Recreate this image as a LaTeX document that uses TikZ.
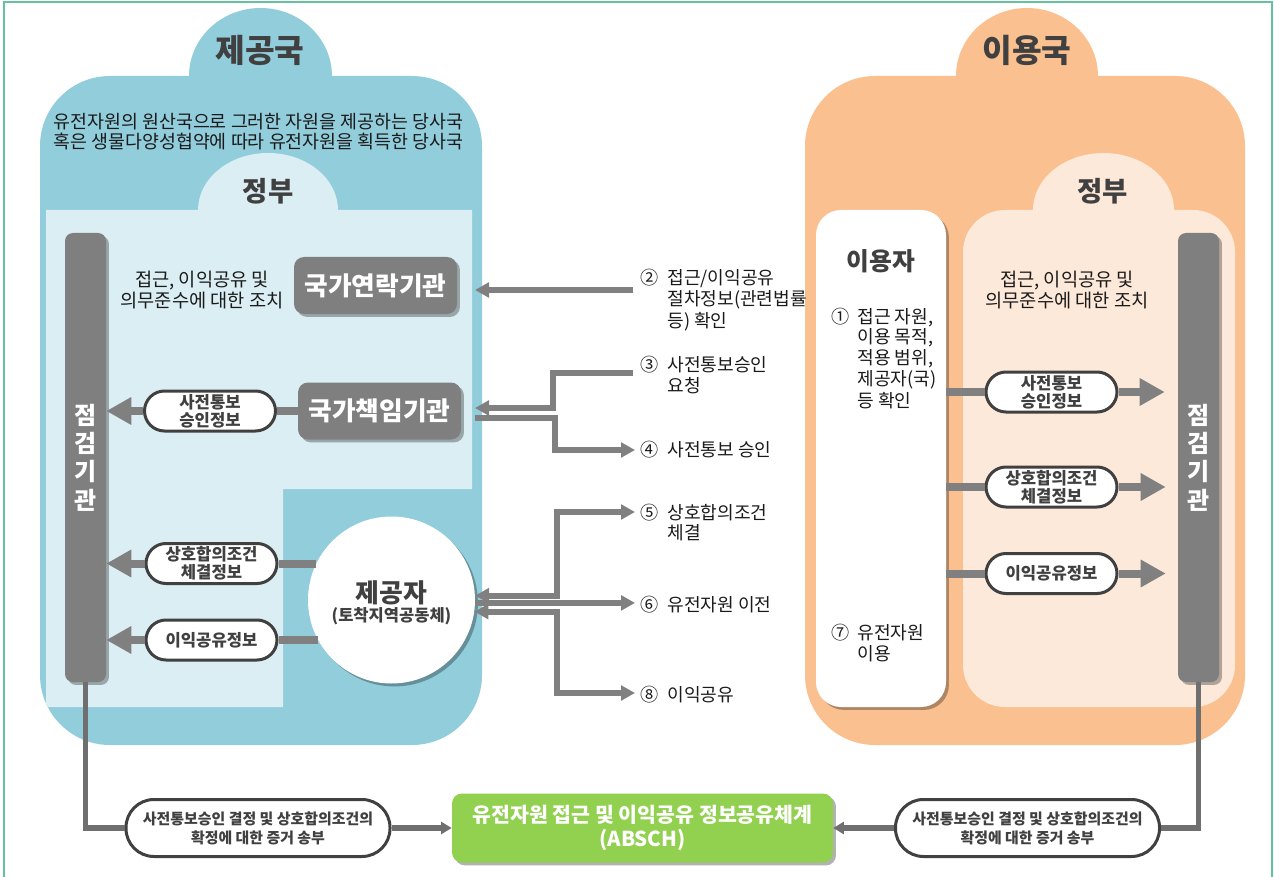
\documentclass[tikz,border=0pt]{standalone}
\usepackage{fontspec}
\setmainfont{Noto Sans CJK KR}
\usetikzlibrary{shadows,arrows.meta,calc}
\definecolor{blueC}{HTML}{92CDDC}
\definecolor{blueL}{HTML}{DAEEF3}
\definecolor{orC}{HTML}{FAC090}
\definecolor{orL}{HTML}{FDE9D9}
\definecolor{grayB}{HTML}{7F7F7F}
\definecolor{lineG}{HTML}{808080}
\definecolor{lineD}{HTML}{6F6F6F}
\definecolor{txtD}{HTML}{404040}
\definecolor{txtK}{HTML}{1A1A1A}
\definecolor{greenB}{HTML}{92D050}
\definecolor{frameG}{HTML}{66C29A}
\tikzset{
  shad/.style={drop shadow={shadow xshift=2.2pt, shadow yshift=-2.2pt, opacity=0.3, fill=black}},
  titlet/.style={inner sep=0pt, text=txtD, font=\fontsize{24.2pt}{28pt}\selectfont\bfseries},
  subt/.style={inner sep=0pt, text=txtD, font=\fontsize{20.6pt}{24pt}\selectfont\bfseries},
  desct/.style={inner sep=0pt, align=center, text=txtK, font=\fontsize{13.8pt}{15pt}\selectfont},
  meast/.style={inner sep=0pt, align=center, text=txtK, font=\fontsize{14pt}{15.75pt}\selectfont},
  labt/.style={inner sep=0pt, anchor=base west, text=txtK, font=\fontsize{13.6pt}{15pt}\selectfont},
  graybox/.style={fill=grayB, rounded corners=7.5pt, text=white, font=\fontsize{19.3pt}{22pt}\selectfont\bfseries, minimum width=122.25pt, minimum height=42.75pt, shad, inner sep=0pt},
  graybar/.style={fill=grayB, rounded corners=6pt, minimum width=30.75pt, minimum height=336.75pt, shad, inner sep=0pt, align=center, text=white, font=\fontsize{18pt}{21.2pt}\selectfont\bfseries},
  capsule/.style={draw=txtD, line width=2.25pt, fill=white, rounded corners=15pt, minimum width=98.25pt, minimum height=30pt, inner sep=0pt, align=center, text=txtD, font=\fontsize{12.5pt}{13.5pt}\selectfont\bfseries},
  bigcap/.style={capsule, rounded corners=21pt, minimum width=198pt, minimum height=42.75pt, font=\fontsize{11.2pt}{14.25pt}\selectfont\bfseries},
  greenbox/.style={fill=greenB, rounded corners=7.5pt, minimum width=285.75pt, minimum height=51.75pt, shad, inner sep=0pt, align=center, text=white, font=\fontsize{15.4pt}{18pt}\selectfont\bfseries},
  userbox/.style={fill=white, rounded corners=18.75pt, minimum width=97.5pt, minimum height=372.75pt, shad, inner sep=0pt},
  provc/.style={circle, fill=white, minimum size=125.25pt, shad, inner sep=0pt},
  conA0/.style={draw=lineG, line width=6pt},
  conA/.style={conA0, -{Triangle[length=18.75pt, width=19.5pt]}},
  conB0/.style={draw=lineG, line width=4.5pt},
  conB/.style={conB0, -{Triangle[length=10.5pt, width=11pt]}},
  conBB/.style={conB0, {Triangle[length=10.5pt, width=11pt]}-{Triangle[length=10.5pt, width=11pt]}},
  conC0/.style={draw=lineD, line width=4pt},
  conC/.style={conC0, -{Triangle[length=8pt, width=9pt]}}
}
\begin{document}
\begin{tikzpicture}[x=0.75pt,y=-0.75pt]
\useasboundingbox (0,0) rectangle (1274,877);
\draw[frameG, line width=1.2pt] (4,900) -- (4,2) -- (1272,2) -- (1272,900);
% provider country
\fill[blueC, rounded corners=52.5pt] (40,76) rectangle (482,745);
\fill[blueC] (260.5,76) ellipse [x radius=53.6pt, y radius=51pt];
\begin{scope}
\clip[rounded corners=52.5pt] (40,76) rectangle (482,745);
\fill[blueL] (46,210) -- (472,210) -- (472,489) -- (283,489) -- (283,707) -- (46,707) -- cycle;
\end{scope}
\fill[blueL] (268,210) ellipse [x radius=52.5pt, y radius=42.75pt];
% user country
\fill[orC, rounded corners=52.5pt] (805,76) rectangle (1245,745);
\fill[orC] (1027,76) ellipse [x radius=53.25pt, y radius=51pt];
\fill[orL, rounded corners=31.5pt] (963,210) rectangle (1235,707);
\fill[orL] (1103.5,210) ellipse [x radius=52.9pt, y radius=42.75pt];
% titles
\node[titlet] (tP) at (260,50) {제공국};
\node[titlet] (tU) at (1027,50) {이용국};
\node[subt] (gP) at (268,191.5) {정부};
\node[subt] (gU) at (1102.5,191.5) {정부};
\node[desct] (dP) at (258.5,132) {유전자원의 원산국으로 그러한 자원을 제공하는 당사국\\혹은 생물다양성협약에 따라 유전자원을 획득한 당사국};
\node[meast] (mP) at (202,290.5) {접근, 이익공유 및\\의무준수에 대한 조치};
\node[meast] (mU) at (1067,290) {접근, 이익공유 및\\의무준수에 대한 조치};
% left nodes
\node[graybar] (chkL) at (85.5,457.5) {점\\검\\기\\관};
\node[graybox] (nfp) at (375.5,285.5) {국가연락기관};
\node[graybox] (cna) at (379.5,411) {국가책임기관};
\node[capsule] (capL1) at (210,411) {사전통보\\승인정보};
\node[capsule] (capL2) at (211.5,563.5) {상호합의조건\\체결정보};
\node[capsule] (capL3) at (211.5,640) {이익공유정보};
\node[provc] (prov) at (391.5,600) {};
\node[inner sep=0pt, text=txtD, font=\fontsize{19.4pt}{20pt}\selectfont\bfseries] (provT) at (391.5,593) {제공자};
\node[inner sep=0pt, text=txtD, font=\fontsize{12.4pt}{13pt}\selectfont\bfseries] (provS) at (391.5,616) {(토착지역공동체)};
% right nodes
\node[userbox] (user) at (881,458.5) {};
\node[inner sep=0pt, text=txtD, font=\fontsize{18.6pt}{20pt}\selectfont\bfseries] (userT) at (881,261) {이용자};
\node[labt] (s1) at (831,323) {\begin{tabular}[t]{@{}l@{\hspace{6pt}}l@{}}①&접근 자원,\\&이용 목적,\\&적용 범위,\\&제공자(국)\\&등 확인\end{tabular}};
\node[labt] (s7) at (831,639) {\begin{tabular}[t]{@{}l@{\hspace{6pt}}l@{}}⑦&유전자원\\&이용\end{tabular}};
\node[graybar] (chkR) at (1198.5,457.5) {점\\검\\기\\관};
\node[capsule] (capR1) at (1051.5,392) {사전통보\\승인정보};
\node[capsule] (capR2) at (1051.5,487) {상호합의조건\\체결정보};
\node[capsule] (capR3) at (1051.5,573.5) {이익공유정보};
% middle labels
\node[labt] (l2) at (640,285) {\begin{tabular}[t]{@{}l@{\hspace{6.75pt}}l@{}}②&접근/이익공유\\&절차정보(관련법률\\&등) 확인\end{tabular}};
\node[labt] (l3) at (640,371) {\begin{tabular}[t]{@{}l@{\hspace{6.75pt}}l@{}}③&사전통보승인\\&요청\end{tabular}};
\node[labt] (l4) at (640,456) {\begin{tabular}[t]{@{}l@{\hspace{6.75pt}}l@{}}④&사전통보 승인\end{tabular}};
\node[labt] (l5) at (640,519) {\begin{tabular}[t]{@{}l@{\hspace{6.75pt}}l@{}}⑤&상호합의조건\\&체결\end{tabular}};
\node[labt] (l6) at (640,611) {\begin{tabular}[t]{@{}l@{\hspace{6.75pt}}l@{}}⑥&유전자원 이전\end{tabular}};
\node[labt] (l8) at (640,701) {\begin{tabular}[t]{@{}l@{\hspace{6.75pt}}l@{}}⑧&이익공유\end{tabular}};
% bottom
\node[bigcap] (capB1) at (258,828) {사전통보승인 결정 및 상호합의조건의\\확정에 대한 증거 송부};
\node[bigcap] (capB2) at (1027.5,828) {사전통보승인 결정 및 상호합의조건의\\확정에 대한 증거 송부};
\node[greenbox] (absch) at (642.5,828) {유전자원 접근 및 이익공유 정보공유체계\\(ABSCH)};
% coordinates for free ends
\coordinate (p2s) at (633,290);
\coordinate (p2e) at (475,290);
\coordinate (p3s) at (633,373);
\coordinate (p3e) at (475,408);
\coordinate (p4s) at (475,418);
\coordinate (p4e) at (635,450);
\coordinate (p5e) at (635,512);
\coordinate (p6e) at (635,604);
\coordinate (p8e) at (635,693);
% left connectors
\draw[conA0] (cna.west) -- (capL1.east);
\draw[conA] (capL1.west) -- (chkL.east |- capL1.west);
\draw[conA0] (capL2.east) -- (capL2.east -| prov.154);
\draw[conA] (capL2.west) -- (chkL.east |- capL2.west);
\draw[conA0] (capL3.east) -- (capL3.east -| prov.208.6);
\draw[conA] (capL3.west) -- (chkL.east |- capL3.west);
% right connectors
\draw[conA0] (user.east |- capR1.west) -- (capR1.west);
\draw[conA, shorten >=9.75pt] (capR1.east) -- (chkR.west |- capR1.east);
\draw[conA0] (user.east |- capR2.west) -- (capR2.west);
\draw[conA, shorten >=9pt] (capR2.east) -- (chkR.west |- capR2.east);
\draw[conA0] (user.east |- capR3.west) -- (capR3.west);
\draw[conA, shorten >=9pt] (capR3.east) -- (chkR.west |- capR3.east);
% middle connectors
\draw[conB] (p2s) -- (p2e);
\draw[conB] (p3s) -| (553,408) -- (p3e);
\draw[conB0, -{Triangle[length=10.5pt, width=11pt]}] (p4s) -| (555,450) -- (p4e);
\draw[conBB] (prov.3.4) -| (557,512) -- (p5e);
\draw[conB] (prov.-2.7) -- (prov.-2.7 -| p6e);
\draw[conBB] (prov.-8.9) -| (557,693) -- (p8e);
% bottom connectors
\draw[conC0] (chkL.south) |- (capB1.west);
\draw[conC] (capB1.east) -- (absch.west);
\draw[conC0] (chkR.south) |- (capB2.east);
\draw[conC] (capB2.west) -- (absch.east);
\end{tikzpicture}
\end{document}
